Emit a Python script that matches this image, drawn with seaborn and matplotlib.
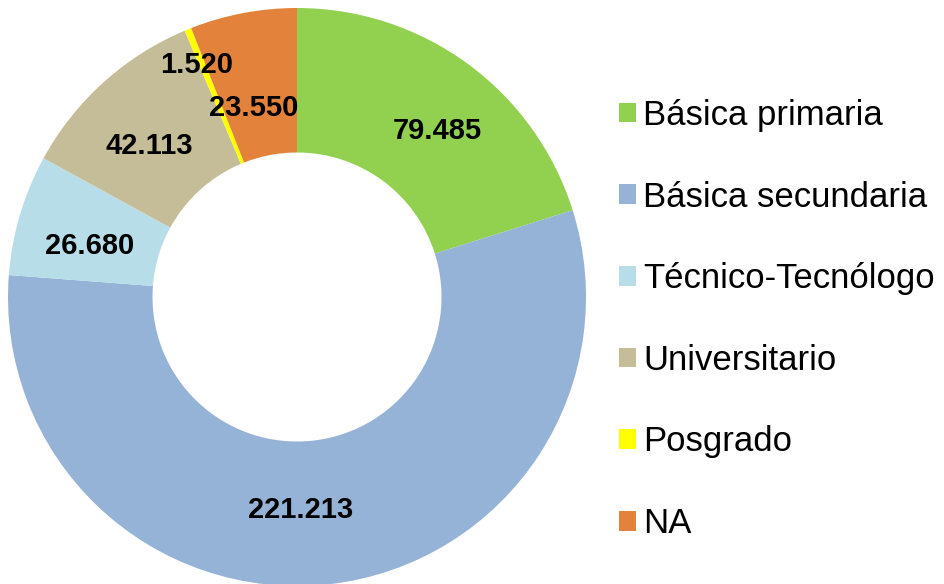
import numpy as np
import matplotlib
matplotlib.use('Agg')
import matplotlib.pyplot as plt
from matplotlib.patches import Patch
import seaborn as sns

# datos: nivel educativo
niveles = ['Básica primaria', 'Básica secundaria', 'Técnico-Tecnólogo',
           'Universitario', 'Posgrado', 'NA']
valores = [79485, 221213, 26680, 42113, 1520, 23550]
etiquetas = ['79.485', '221.213', '26.680', '42.113', '1.520', '23.550']
colores = ['#92D050', '#95B3D7', '#B7DEE8', '#C4BD97', '#FFFF00', '#E2823B']
# distancia radial y desplazamiento angular (grados, horario) de cada etiqueta
dist_etiq = [0.751, 0.737, 0.737, 0.731, 0.876, 0.671]
desp_etiq = [4.0, 5.7, -2.8, -2.2, -1.3, -2.2]

sns.set_theme(style='white')
plt.rcParams['font.family'] = ['Liberation Sans', 'DejaVu Sans']
plt.rcParams['text.color'] = 'black'

fig = plt.figure(figsize=(9.45, 5.84), dpi=100)
ax = fig.add_axes([8/945, -2/584, 578/945, 578/584])

wedges, _ = ax.pie(valores, colors=colores, startangle=90, counterclock=False,
                   radius=1, wedgeprops=dict(width=0.5, linewidth=0))

for w, txt, r, d in zip(wedges, etiquetas, dist_etiq, desp_etiq):
    ang = np.deg2rad((w.theta1 + w.theta2) / 2 - d)
    ax.text(r*np.cos(ang), r*np.sin(ang), txt, ha='center', va='center',
            fontsize=21, fontweight='bold', color='black')

ax.set_xlim(-1, 1)
ax.set_ylim(-1, 1)
ax.set_aspect('equal')
ax.axis('off')

handles = [Patch(facecolor=c, edgecolor='none', label=n) for c, n in zip(colores, niveles)]
leg = fig.legend(handles=handles, loc='center left', bbox_to_anchor=(619/945, 0.453),
                 frameon=False, fontsize=25, handlelength=0.5, handleheight=0.5,
                 handletextpad=0.2, labelspacing=1.4, borderpad=0, borderaxespad=0)
for t in leg.get_texts():
    t.set_color('black')

fig.savefig('out.png', dpi=100)
